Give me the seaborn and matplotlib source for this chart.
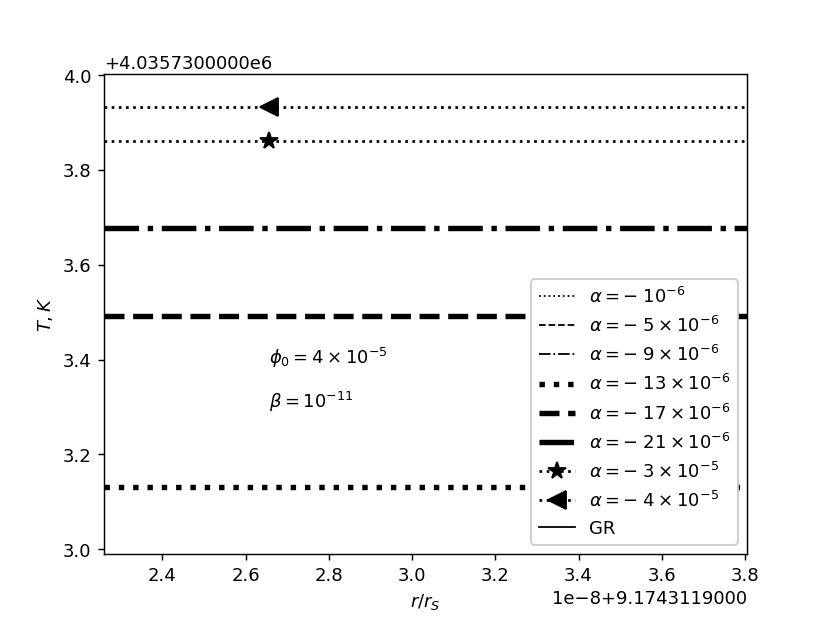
import numpy as np
import pandas as pd
import matplotlib
matplotlib.use("Agg")
import matplotlib.pyplot as plt
from matplotlib.lines import Line2D
from matplotlib.ticker import ScalarFormatter
import seaborn as sns

# x in units of 1e-8 above 9.1743119, y in K above 4035730
r_offset = 9.1743119
r_scale = 1e-8
T_offset = 4035730.0

r_ticks = [2.259, 2.656, 3.805]

labels = [r"$\alpha = -\;10^{-6}$", r"$\alpha = -\;5\times10^{-6}$", r"$\alpha = -\;9\times10^{-6}$",
          r"$\alpha = -\;13\times10^{-6}$", r"$\alpha = -\;17\times10^{-6}$", r"$\alpha = -\;21\times10^{-6}$",
          r"$\alpha = -\;3\times10^{-5}$", r"$\alpha = -\;4\times10^{-5}$", "GR"]

# only these curves fall inside the visible window
T_13 = [3.131, 3.131, 3.131]
T_17 = [3.492, 3.492, 3.492]
T_21 = [3.677, 3.677, 3.677]
T_3e5 = [3.861, 3.861, 3.861]
T_4e5 = [3.932, 3.932, 3.932]

styles = {
    labels[0]: dict(ls=":", lw=1),
    labels[1]: dict(ls="--", lw=1),
    labels[2]: dict(ls="-.", lw=1),
    labels[3]: dict(ls=":", lw=3),
    labels[4]: dict(ls="--", lw=3),
    labels[5]: dict(ls="-.", lw=3),
    labels[6]: dict(ls=":", lw=1.5, marker="*", ms=10),
    labels[7]: dict(ls=":", lw=1.5, marker="<", ms=10),
    labels[8]: dict(ls="-", lw=1),
}

visible = {labels[3]: T_13, labels[4]: T_17, labels[5]: T_21,
           labels[6]: T_3e5, labels[7]: T_4e5}


class OffsetFormatter(ScalarFormatter):
    def __init__(self, text):
        super().__init__()
        self._text = text

    def get_offset(self):
        return self._text


fig, ax = plt.subplots(figsize=(6.4, 4.8), dpi=129.7)

r_vals = r_offset + np.array(r_ticks) * r_scale
for lab, T in visible.items():
    df = pd.DataFrame({"r": r_vals, "T": T_offset + np.array(T)})
    st = styles[lab]
    extra = {}
    if "marker" in st:
        extra = dict(marker=st["marker"], ms=st["ms"], markevery=[1], mec="k", mew=1)
    sns.lineplot(data=df, x="r", y="T", color="k", linestyle=st["ls"], lw=st["lw"],
                 ax=ax, legend=False, **extra)

handles = []
for lab in labels:
    st = styles[lab]
    handles.append(Line2D([], [], color="k", linestyle=st["ls"], lw=st["lw"],
                          marker=st.get("marker", "None"), ms=st.get("ms", 6)))
ax.legend(handles, labels, loc="lower right", framealpha=1)

ax.set_xlim(r_offset + 2.259 * r_scale, r_offset + 3.805 * r_scale)
ax.set_ylim(T_offset + 2.991, T_offset + 4.002)

ax.xaxis.set_major_formatter(OffsetFormatter("1e\u22128+9.1743119000"))
ax.yaxis.set_major_formatter(OffsetFormatter("+4.0357300000e6"))

ax.text(r_offset + 2.656 * r_scale, T_offset + 3.405, r"$\phi_0 = 4\times10^{-5}$", va="center")
ax.text(r_offset + 2.656 * r_scale, T_offset + 3.312, r"$\beta = 10^{-11}$", va="center")

ax.set_xlabel(r"$r/r_S$")
ax.set_ylabel(r"$T, K$")

plt.savefig("out.png")
